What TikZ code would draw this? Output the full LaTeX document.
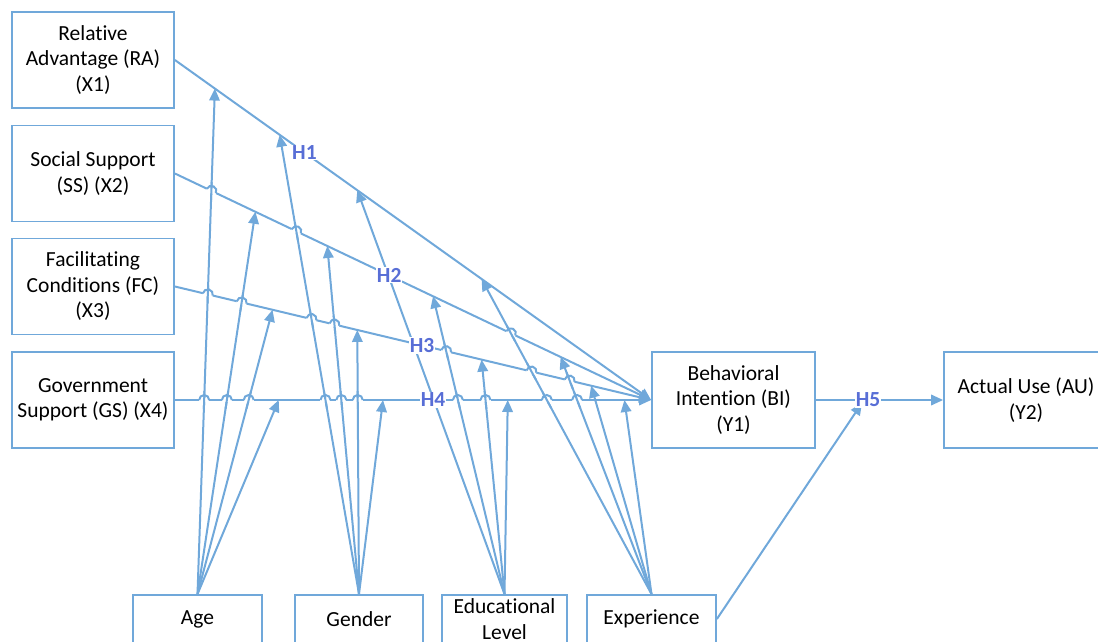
\documentclass[tikz,border=0pt]{standalone}
\usepackage{fontspec}
\setmainfont{Carlito}[Ligatures=NoCommon]
\usetikzlibrary{arrows.meta,calc,intersections}
\definecolor{lc}{RGB}{112,168,218}
\definecolor{hc}{RGB}{88,110,214}
\newcommand\hop[3]{% #1 H-line (RA/SS/FC/GS), #2 moderator node, #3 moderator target
  \path[name intersections={of=l#1 and m#2#3, by=x#1#2#3}];
  \draw[white, line width=4.5pt] ($(x#1#2#3)!5pt!(#1.east)$) -- ($(x#1#2#3)!5pt!(BI.west)$);
  \draw[conn] ($(x#1#2#3)!9pt!(#2.north)$) -- ($(x#1#2#3)!9pt!(t#2#3)$);
  \draw[conn] let \p1=($(BI.west)-(#1.east)$), \n1={atan2(\y1,\x1)} in
    ($(x#1#2#3)!5pt!(#1.east)$) arc[start angle=\n1+180, end angle=\n1, radius=5pt];
}
\begin{document}
\begin{tikzpicture}[x=1pt,y=1pt,
  box/.style={draw=lc, line width=1.8pt, minimum width=162pt, minimum height=96pt,
    align=center, inner sep=2pt, font=\fontsize{21.5}{25.5}\selectfont, text=black},
  bbox/.style={box, minimum width=129pt, minimum height=48pt},
  conn/.style={draw=lc, line width=2pt},
  arr/.style={conn, -{Triangle[length=12pt,width=10.5pt]}},
  hlab/.style={fill=white, text=hc, font=\fontsize{21.5}{22}\selectfont\bfseries, inner sep=1pt},
]
\useasboundingbox (0,0) rectangle (1098,-642);

% boxes
\node[box] (RA) at (93,-60) {Relative\\Advantage (RA)\\(X1)};
\node[box] (SS) at (93,-173.5) {Social Support\\(SS) (X2)};
\node[box] (FC) at (93,-286.5) {Facilitating\\Conditions (FC)\\(X3)};
\node[box] (GS) at (93,-400) {Government\\Support (GS) (X4)};
\node[box, minimum width=163pt] (BI) at (733.5,-400) {Behavioral\\Intention (BI)\\(Y1)};
\node[box, minimum width=164pt] (AU) at (1026,-400) {Actual Use (AU)\\(Y2)};
\node[bbox] (Age) at (197.5,-619) {Age};
\node[bbox, minimum width=128pt] (Gen) at (359,-619) {Gender};
\node[bbox, minimum width=125pt] (Edu) at (504.5,-619) {Educational\\Level};
\node[bbox] (Exp) at (651.5,-619) {Experience};

% target points on the hypothesis lines
\coordinate (tAgeRA) at ($(RA.east)!0.084!(BI.west)$);
\coordinate (tGenRA) at ($(RA.east)!0.220!(BI.west)$);
\coordinate (tEduRA) at ($(RA.east)!0.383!(BI.west)$);
\coordinate (tExpRA) at ($(RA.east)!0.644!(BI.west)$);
\coordinate (tAgeSS) at ($(SS.east)!0.169!(BI.west)$);
\coordinate (tGenSS) at ($(SS.east)!0.320!(BI.west)$);
\coordinate (tEduSS) at ($(SS.east)!0.542!(BI.west)$);
\coordinate (tExpSS) at ($(SS.east)!0.810!(BI.west)$);
\coordinate (tAgeFC) at ($(FC.east)!0.205!(BI.west)$);
\coordinate (tGenFC) at ($(FC.east)!0.383!(BI.west)$);
\coordinate (tEduFC) at ($(FC.east)!0.644!(BI.west)$);
\coordinate (tExpFC) at ($(FC.east)!0.874!(BI.west)$);
\coordinate (tAgeGS) at ($(GS.east)!0.218!(BI.west)$);
\coordinate (tGenGS) at ($(GS.east)!0.437!(BI.west)$);
\coordinate (tEduGS) at ($(GS.east)!0.699!(BI.west)$);
\coordinate (tExpGS) at ($(GS.east)!0.944!(BI.west)$);

% hypothesis lines
\draw[arr, name path=lRA] (RA.east) -- (BI.west);
\draw[arr, name path=lSS] (SS.east) -- (BI.west);
\draw[arr, name path=lFC] (FC.east) -- (BI.west);
\draw[arr, name path=lGS] (GS.east) -- (BI.west);

% moderator lines
\draw[arr, name path=mAgeRA] (Age.north) -- (tAgeRA);
\draw[arr, name path=mAgeSS] (Age.north) -- (tAgeSS);
\draw[arr, name path=mAgeFC] (Age.north) -- (tAgeFC);
\draw[arr, name path=mAgeGS] (Age.north) -- (tAgeGS);
\draw[arr, name path=mGenRA] (Gen.north) -- (tGenRA);
\draw[arr, name path=mGenSS] (Gen.north) -- (tGenSS);
\draw[arr, name path=mGenFC] (Gen.north) -- (tGenFC);
\draw[arr, name path=mGenGS] (Gen.north) -- (tGenGS);
\draw[arr, name path=mEduRA] (Edu.north) -- (tEduRA);
\draw[arr, name path=mEduSS] (Edu.north) -- (tEduSS);
\draw[arr, name path=mEduFC] (Edu.north) -- (tEduFC);
\draw[arr, name path=mEduGS] (Edu.north) -- (tEduGS);
\draw[arr, name path=mExpRA] (Exp.north) -- (tExpRA);
\draw[arr, name path=mExpSS] (Exp.north) -- (tExpSS);
\draw[arr, name path=mExpFC] (Exp.north) -- (tExpFC);
\draw[arr, name path=mExpGS] (Exp.north) -- (tExpGS);

% line jumps
\hop{SS}{Age}{RA}
\hop{SS}{Gen}{RA}
\hop{SS}{Exp}{RA}
\hop{FC}{Age}{RA}
\hop{FC}{Age}{SS}
\hop{FC}{Gen}{RA}
\hop{FC}{Gen}{SS}
\hop{FC}{Edu}{SS}
\hop{FC}{Exp}{RA}
\hop{FC}{Exp}{SS}
\hop{GS}{Age}{RA}
\hop{GS}{Age}{SS}
\hop{GS}{Age}{FC}
\hop{GS}{Gen}{RA}
\hop{GS}{Gen}{SS}
\hop{GS}{Gen}{FC}
\hop{GS}{Edu}{SS}
\hop{GS}{Edu}{FC}
\hop{GS}{Exp}{RA}
\hop{GS}{Exp}{SS}

% BI -> AU and experience -> H5
\draw[arr] (BI.east) -- (AU.west);
\coordinate (h5t) at (862,-403);
\draw[arr] (Exp.east) -- (h5t);

% labels
\node[hlab] (H1) at ($(RA.east)!0.272!(BI.west)$) {H1};
\node[hlab] (H2) at ($(SS.east)!0.45!(BI.west)$) {H2};
\node[hlab] (H3) at ($(FC.east)!0.519!(BI.west)$) {H3};
\node[hlab] (H4) at ($(GS.east)!0.542!(BI.west)$) {H4};
\node[hlab] (H5) at ($(BI.east)!0.41!(AU.west)$) {H5};
\end{tikzpicture}
\end{document}
